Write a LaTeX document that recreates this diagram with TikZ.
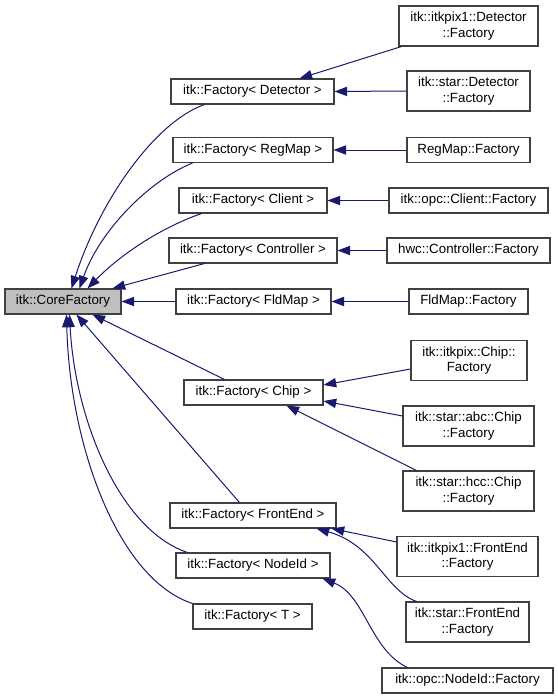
\documentclass[tikz,border=0pt]{standalone}
\usepackage{fontspec}
\setmainfont{Liberation Sans}
\usetikzlibrary{arrows.meta,calc}
\definecolor{edgeblue}{HTML}{191970}
\definecolor{boxline}{HTML}{404040}
\definecolor{corefill}{HTML}{BFBFBF}
\begin{document}
\begin{tikzpicture}[x=0.75pt,y=-0.75pt,
  cls/.style={draw=boxline, line width=0.8pt, fill=white, align=center,
    font=\fontsize{10}{11.4}\selectfont, inner sep=0pt, minimum height=18.75pt},
  two/.style={minimum height=30pt},
  wd/.style={minimum width=#1*0.75pt},
  base/.style={cls, fill=corefill},
  inh/.style={draw=edgeblue, line width=0.75pt,
    -{Triangle[length=9.5pt,width=7pt]}}]
\useasboundingbox (0,0) rectangle (557,699);
% left / middle column
\node[base, wd=116] (core) at (63,301.5) {itk::CoreFactory};
\node[cls, wd=163] (fdet) at (252.5,91.5) {itk::Factory< Detector >};
\node[cls, wd=160] (freg) at (253,150) {itk::Factory< RegMap >};
\node[cls, wd=148] (fcli) at (253,200.5) {itk::Factory< Client >};
\node[cls, wd=168] (fcon) at (253,250.5) {itk::Factory< Controller >};
\node[cls, wd=155] (ffld) at (253.5,301.5) {itk::Factory< FldMap >};
\node[cls, wd=139] (fchip) at (253.5,392.5) {itk::Factory< Chip >};
\node[cls, wd=166] (ffe) at (253,515.5) {itk::Factory< FrontEnd >};
\node[cls, wd=154] (fnid) at (253,565.5) {itk::Factory< NodeId >};
\node[cls, wd=119] (ft) at (252.5,616.5) {itk::Factory< T >};
% right column
\node[cls, two, wd=139] (d1) at (468.5,26) {itk::itkpix1::Detector\\::Factory};
\node[cls, two, wd=123] (d2) at (468.5,91) {itk::star::Detector\\::Factory};
\node[cls, wd=123] (rm) at (468.5,150) {RegMap::Factory};
\node[cls, wd=159] (cl) at (468.5,200.5) {itk::opc::Client::Factory};
\node[cls, wd=163] (co) at (468.5,250.5) {hwc::Controller::Factory};
\node[cls, wd=119] (fm) at (468.5,301.5) {FldMap::Factory};
\node[cls, two, wd=116] (c1) at (469,360.5) {itk::itkpix::Chip::\\Factory};
\node[cls, two, wd=131] (c2) at (468.5,426) {itk::star::abc::Chip\\::Factory};
\node[cls, two, wd=131] (c3) at (468.5,491) {itk::star::hcc::Chip\\::Factory};
\node[cls, two, wd=141] (fe1) at (467.5,556.5) {itk::itkpix1::FrontEnd\\::Factory};
\node[cls, two, wd=123] (fe2) at (467.5,622) {itk::star::FrontEnd\\::Factory};
\node[cls, wd=171] (nid) at (467.5,680.5) {itk::opc::NodeId::Factory};
% edges to CoreFactory
\draw[inh] ($(fdet.south west)+(34,0)$) .. controls (155,122) and (100,200) .. ($(core.north west)+(67,0)$);
\draw[inh] ($(freg.south west)+(20,0)$) .. controls (150,180) and (100,230) .. ($(core.north west)+(75,0)$);
\draw[inh] ($(fcli.south west)+(23,0)$) .. controls (160,228) and (120,255) .. ($(core.north west)+(83,0)$);
\draw[inh] ($(fcon.south west)+(36,0)$) -- ($(core.north west)+(108,0)$);
\draw[inh] (ffld.west) -- (core.east);
\draw[inh] ($(fchip.north west)+(41,0)$) -- ($(core.south west)+(88,0)$);
\draw[inh] ($(ffe.north west)+(70,0)$) -- ($(core.south west)+(72,0)$);
\draw[inh] ($(fnid.north west)+(12,0)$) .. controls (120,530) and (75,420) .. ($(core.south west)+(65,0)$);
\draw[inh] (ft.north west) .. controls (120,580) and (70,450) .. ($(core.south west)+(62,0)$);
% edges to template instances
\draw[inh] ($(d1.south west)+(3,0)$) -- ($(fdet.north west)+(129,0)$);
\draw[inh] (d2.west) -- (fdet.east);
\draw[inh] (rm.west) -- (freg.east);
\draw[inh] (cl.west) -- (fcli.east);
\draw[inh] (co.west) -- (fcon.east);
\draw[inh] (fm.west) -- (ffld.east);
\draw[inh] ($(c1.west)+(0,8.5)$) -- ($(fchip.east)+(0,-7.5)$);
\draw[inh] ($(c2.west)+(0,-10)$) -- ($(fchip.east)+(0,8.5)$);
\draw[inh] ($(c3.north west)+(14,0)$) -- ($(fchip.south west)+(103,0)$);
\draw[inh] ($(fe1.north west)+(0,6)$) -- ($(ffe.south east)+(-5,0)$);
\draw[inh] ($(fe2.north west)+(11,0)$) .. controls (385,590) and (375,545) .. ($(ffe.south east)+(-20,0)$);
\draw[inh] ($(nid.north west)+(26,0)$) .. controls (370,650) and (365,595) .. ($(fnid.south east)+(-8,0)$);
\end{tikzpicture}
\end{document}
